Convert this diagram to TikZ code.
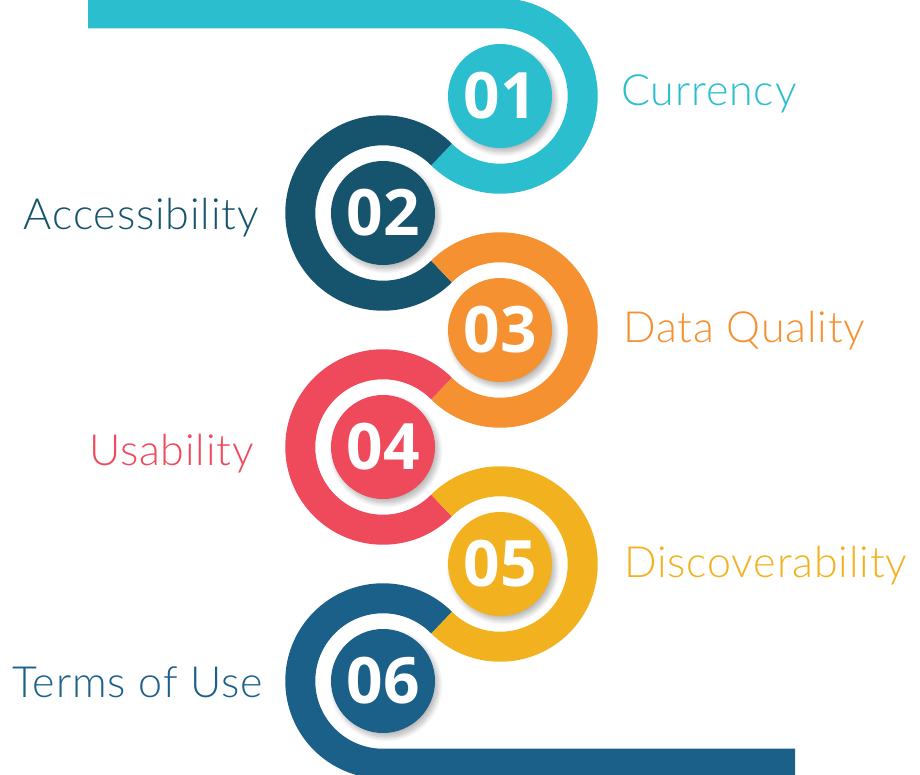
\documentclass[tikz,border=0pt]{standalone}
\usepackage{fontspec}
\usetikzlibrary{calc,shadows.blur}
\newfontfamily\numfont{Open Sans}
\newfontfamily\labelfont{Lato Light}[LetterSpace=2]

\definecolor{cyanA}{RGB}{42,190,207}
\definecolor{tealB}{RGB}{22,84,110}
\definecolor{orangeC}{RGB}{245,145,49}
\definecolor{redD}{RGB}{239,74,92}
\definecolor{yellowE}{RGB}{242,178,31}
\definecolor{blueF}{RGB}{27,96,137}

\tikzset{
  band/.style={line width=30pt, line cap=butt},
  numdisc/.style={circle, minimum size=104pt, inner sep=0pt, text=white,
    font=\numfont\bfseries\fontsize{64}{64}\selectfont,
    blur shadow={shadow xshift=3pt, shadow yshift=-4pt, shadow blur radius=5pt,
      shadow blur steps=12, shadow opacity=30}},
  lbl/.style={inner sep=0pt, font=\labelfont\fontsize{43}{50}\selectfont},
}

\begin{document}
\begin{tikzpicture}[x=1pt,y=1pt]
  \useasboundingbox (0,0) rectangle (920,-775);
  \def\R{82.73pt}

  % centres of the six discs
  \coordinate (c1) at (500,-96);
  \coordinate (c2) at (383,-213);
  \coordinate (c3) at (500,-330);
  \coordinate (c4) at (383,-447);
  \coordinate (c5) at (500,-564);
  \coordinate (c6) at (383,-681);
  \coordinate (barL) at (88,-13.27);
  \coordinate (barR) at (795,-763.73);

  % winding band
  \draw[band, cyanA] (barL) -- ($(c1)+(0,82.73)$) arc[start angle=90, end angle=-135, radius=\R];
  \draw[band, tealB] (c2) ++(45:\R) arc[start angle=45, end angle=315, radius=\R];
  \draw[band, orangeC] (c3) ++(135:\R) arc[start angle=135, end angle=-135, radius=\R];
  \draw[band, redD] (c4) ++(45:\R) arc[start angle=45, end angle=315, radius=\R];
  \draw[band, yellowE] (c5) ++(135:\R) arc[start angle=135, end angle=-135, radius=\R];
  \draw[band, blueF] (c6) ++(45:\R) arc[start angle=45, end angle=270, radius=\R] -- (barR);

  % numbered discs
  \node[numdisc, fill=cyanA] (n1) at (c1) {01};
  \node[numdisc, fill=tealB] (n2) at (c2) {02};
  \node[numdisc, fill=orangeC] (n3) at (c3) {03};
  \node[numdisc, fill=redD] (n4) at (c4) {04};
  \node[numdisc, fill=yellowE] (n5) at (c5) {05};
  \node[numdisc, fill=blueF] (n6) at (c6) {06};

  % labels
  \node[lbl, anchor=base west, text=cyanA] (t1) at (621,-106) {Currency};
  \node[lbl, anchor=base east, text=tealB] (t2) at (259,-230) {Accessibility};
  \node[lbl, anchor=base west, text=orangeC] (t3) at (623,-342) {Data Quality};
  \node[lbl, anchor=base east, text=redD] (t4) at (254,-465) {Usability};
  \node[lbl, anchor=base west, text=yellowE] (t5) at (624,-577) {Discoverability};
  \node[lbl, anchor=base east, text=blueF] (t6) at (263,-697) {Terms of Use};
\end{tikzpicture}
\end{document}
